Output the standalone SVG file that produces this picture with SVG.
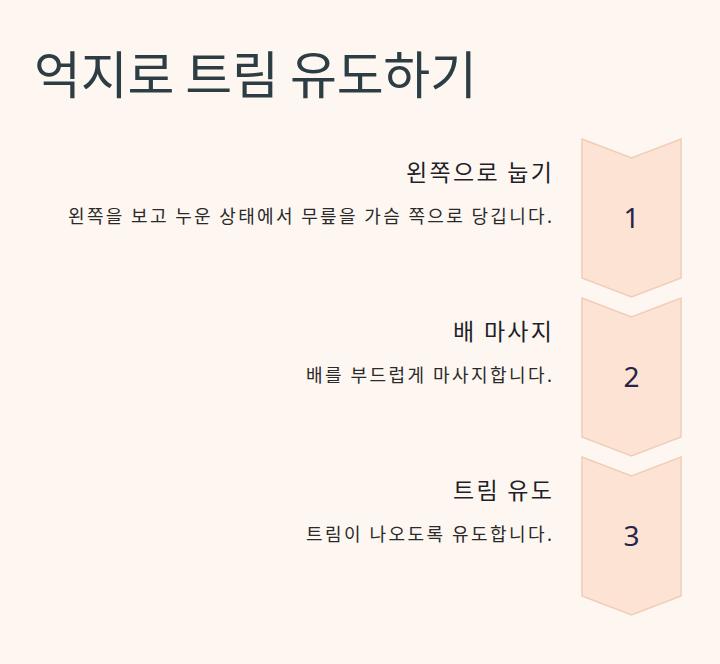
<svg xmlns="http://www.w3.org/2000/svg" width="720" height="664" viewBox="0 0 720 664">
<style>
text{font-family:"Noto Sans CJK KR","Noto Sans",sans-serif}
.t{font-size:51px;fill:#2c3e44}
.h{font-size:23px;fill:#1f1f2a;text-anchor:end}
.d{font-size:18px;fill:#2a2a2a;text-anchor:end}
.n{font-size:28px;fill:#25254a;text-anchor:middle;font-family:"Noto Sans",sans-serif}
.c{fill:#fde3d3;stroke:#f0cdb8;stroke-width:1.5}
</style>
<rect width="720" height="664" fill="#fef7f1"/>
<text class="t" x="34" y="94" textLength="443" lengthAdjust="spacing">억지로 트림 유도하기</text>
<g id="step1">
<path class="c" d="M582,139 L631.5,158 L681,139 L681,278 L631.5,297 L582,278 Z"/>
<text class="n" x="631.5" y="228">1</text>
<text class="h" x="552" y="181" textLength="146" lengthAdjust="spacing">왼쪽으로 눕기</text>
<text class="d" x="552" y="223" textLength="484" lengthAdjust="spacing">왼쪽을 보고 누운 상태에서 무릎을 가슴 쪽으로 당깁니다.</text>
</g>
<g id="step2">
<path class="c" d="M582,298 L631.5,317 L681,298 L681,437 L631.5,456 L582,437 Z"/>
<text class="n" x="631.5" y="387">2</text>
<text class="h" x="552" y="340" textLength="99" lengthAdjust="spacing">배 마사지</text>
<text class="d" x="552" y="382" textLength="246" lengthAdjust="spacing">배를 부드럽게 마사지합니다.</text>
</g>
<g id="step3">
<path class="c" d="M582,457 L631.5,476 L681,457 L681,596 L631.5,615 L582,596 Z"/>
<text class="n" x="631.5" y="546">3</text>
<text class="h" x="552" y="499" textLength="99" lengthAdjust="spacing">트림 유도</text>
<text class="d" x="552" y="541" textLength="246" lengthAdjust="spacing">트림이 나오도록 유도합니다.</text>
</g>
<g id="connectors"/>
</svg>
